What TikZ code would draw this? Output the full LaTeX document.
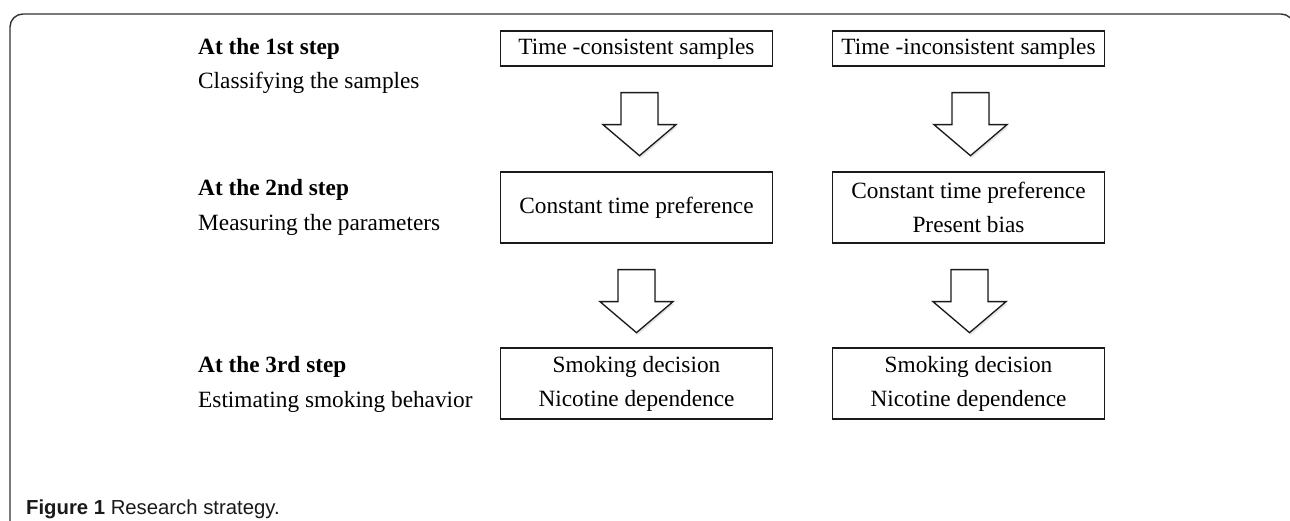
\documentclass[tikz,border=0pt]{standalone}
\usepackage{fontspec}
\setmainfont{Liberation Serif}
\setsansfont{Liberation Sans}
\usetikzlibrary{calc,shadows}
\definecolor{framecol}{HTML}{333333}
\definecolor{inkcol}{HTML}{1A1A1A}
\tikzset{
  stepbox/.style={draw=inkcol, line width=1.3pt, fill=white, inner sep=0pt,
    minimum width=272.5pt, align=center, text=black,
    font=\fontsize{23.3}{34}\selectfont},
  steplabel/.style={anchor=base west, inner sep=0pt, text=black,
    font=\fontsize{23.3}{34}\selectfont},
  steplabelbold/.style={steplabel, font=\fontsize{23.3}{34}\selectfont\bfseries},
  blockarrow/.style={draw=inkcol, line width=1.3pt, fill=white, line join=miter,
    drop shadow={shadow xshift=1.2pt, shadow yshift=-2.2pt, opacity=0.22}},
  pics/downarr/.style={code={
    \draw[blockarrow] (-18.5,0) -- (18.5,0) -- (18.5,32) -- (36.5,32) -- (0,63)
      -- (-36.5,32) -- (-18.5,32) -- cycle;
  }}
}
\begin{document}
\begin{tikzpicture}[x=1pt, y=-1pt]
\useasboundingbox (0,0) rectangle (1290,521);
\fill[white] (0,0) rectangle (1290,521);
\begin{scope}
  \clip (0,0) rectangle (1290,521);
  \draw[framecol, line width=1.4pt, rounded corners=13pt]
    (10,530) -- (10,14) -- (1294,14) -- (1294,530);
\end{scope}

% left labels
\node[steplabelbold] (l1a) at (198,55) {At the 1st step};
\node[steplabel] (l1b) at (198,89) {Classifying the samples};
\node[steplabelbold] (l2a) at (198,196) {At the 2nd step};
\node[steplabel] (l2b) at (198,231) {Measuring the parameters};
\node[steplabelbold] (l3a) at (198,372) {At the 3rd step};
\node[steplabel] (l3b) at (198,407) {Estimating smoking behavior};

% boxes
\node[stepbox, minimum height=35pt] (a1) at (636.5,48.5) {Time -consistent samples};
\node[stepbox, minimum height=35pt] (b1) at (968.5,48.5) {Time -inconsistent samples};
\node[stepbox, minimum height=71pt] (a2) at (636.5,207.5) {Constant time preference};
\node[stepbox, minimum height=71pt] (b2) at (968.5,207.5) {Constant time preference\\Present bias};
\node[stepbox, minimum height=71pt] (a3) at (636.5,383.5) {Smoking decision\\Nicotine dependence};
\node[stepbox, minimum height=71pt] (b3) at (968.5,383.5) {Smoking decision\\Nicotine dependence};

% block arrows
\pic at ($(a1.south)+(3,26)$) {downarr};
\pic at ($(b1.south)+(2,26)$) {downarr};
\pic at ($(a2.south)+(0,26)$) {downarr};
\pic at ($(b2.south)+(1,26)$) {downarr};

% caption
\node[anchor=base west, inner sep=0pt, text=inkcol, font=\sffamily\fontsize{20.3}{23}\selectfont]
  (cap) at (26,514) {\textbf{Figure 1} Research strategy.};
\end{tikzpicture}
\end{document}
